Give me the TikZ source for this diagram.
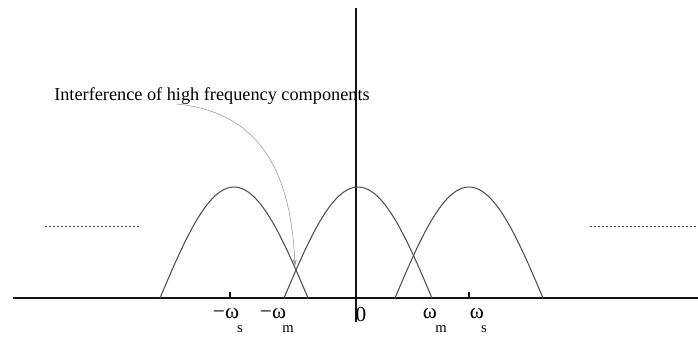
\documentclass[tikz,border=0pt]{standalone}
\usepackage{fontspec}
\setmainfont{Liberation Serif}
\usetikzlibrary{arrows.meta}
\definecolor{curvecolor}{RGB}{80,80,80}
\definecolor{notecolor}{RGB}{150,150,150}
\definecolor{axiscolor}{RGB}{20,20,20}

\begin{document}
\begin{tikzpicture}[x=0.75pt,y=-0.75pt,>=Stealth]
  \useasboundingbox (0,0) rectangle (698,337);
  % --- spectrum parameters (pixel units, y down) ---
  \def\base{298}
  \def\peak{111}
  \def\half{74}

  % axes
  \draw[axiscolor,thick] (13,\base) -- (698,\base);
  \draw[axiscolor,thick] (356,8) -- (356,322);

  % ticks at -ws and ws
  \draw[axiscolor,thick] (230,\base) -- (230,292);
  \draw[axiscolor,thick] (469,\base) -- (469,292);

  % repeated copies continue both ways
  \draw[curvecolor,dash pattern=on 1.6pt off 1.4pt] (45,226) -- (139,226);
  \draw[curvecolor,dash pattern=on 1.6pt off 1.4pt] (590,226) -- (698,226);

  % --- the three shifted copies of the spectrum ---
  \foreach \c in {234,358,469}
    \draw[curvecolor,thick]
      plot[domain=-\half:\half,samples=60]
        ({\c+\x},{\base-\peak*cos(90*\x/\half)});

  % --- note and pointer to the overlap ---
  \node[anchor=west,inner sep=0pt,font=\fontsize{13.7}{16}\selectfont]
    (note) at (54,96) {Interference of high frequency components};
  \coordinate (from) at (176,104);
  \coordinate (cross) at (295,266);
  \draw[notecolor,->,>={Stealth[length=5pt,width=3pt]}]
    (from) .. controls (262,112) and (291,175) .. (cross);

  % --- frequency labels ---
  \tikzset{wlabel/.style={anchor=base,inner sep=0pt,
                          font=\fontsize{16}{18}\selectfont},
           sublabel/.style={anchor=base,inner sep=0pt,
                            font=\fontsize{11}{13}\selectfont}}
  \node[wlabel] (mws) at (226,318) {−ω};
  \node[sublabel] (mwssub) at (240,332) {s};
  \node[wlabel] (mwm) at (273,318) {−ω};
  \node[sublabel] (mwmsub) at (288,332) {m};
  \node[wlabel] (zero) at (361,321) {0};
  \node[wlabel] (wm) at (430,318) {ω};
  \node[sublabel] (wmsub) at (441,332) {m};
  \node[wlabel] (ws) at (477,318) {ω};
  \node[sublabel] (wssub) at (484,332) {s};
\end{tikzpicture}
\end{document}
